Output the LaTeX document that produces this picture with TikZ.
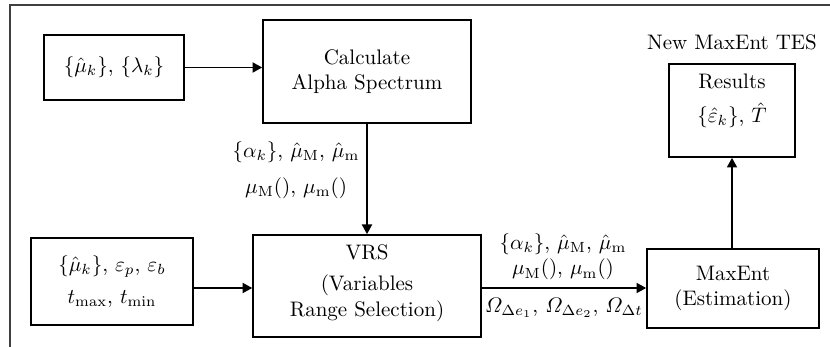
\documentclass[tikz,border=0pt]{standalone}
\usepackage{amsmath}
\usetikzlibrary{arrows.meta}
\begin{document}
\begin{tikzpicture}[x=0.476pt,y=-0.476pt,
  box/.style={draw, line width=0.75pt, inner sep=0pt, align=center, font=\normalsize},
  arr/.style={line width=0.75pt, -{Triangle[length=4.6pt,width=4.8pt]}},
  lbl/.style={inner sep=1pt, align=center},
  frame/.style={line width=0.6pt, draw=black!75}]
\useasboundingbox (0,0) rectangle (830,347);
\draw[frame] (10,347) -- (10,5) -- (830,5);
% nodes
\node[box, minimum width=66.7pt, minimum height=31pt] (in1) at (114,67.5) {$\{\hat\mu_k\}$, $\{\lambda_k\}$};
\node[box, minimum width=99pt, minimum height=49pt] (calc) at (367,71.5) {Calculate\\Alpha Spectrum};
\node[box, minimum width=77pt, minimum height=41.4pt] (in2) at (112,281.5) {$\{\hat\mu_k\}$, $\varepsilon_p$, $\varepsilon_b$\\[3pt]$t_{\max}$, $t_{\min}$};
\node[box, minimum width=108.5pt, minimum height=48.6pt] (vrs) at (367,286) {};
\node[lbl] (vrstext) at (367,283) {VRS\\[3pt](Variables\\Range Selection)};
\node[box, minimum width=81.9pt, minimum height=37.6pt] (me) at (733,288.5) {MaxEnt\\(Estimation)};
\node[box, minimum width=60pt, minimum height=44.3pt] (res) at (732,110.5) {};
\node[lbl] (restext) at (732,101) {Results\\[4pt]$\{\hat\varepsilon_k\}$, $\hat{T}$};
\node[lbl] (title) at (732,42) {New MaxEnt TES};
% connectors
\draw[arr] (in1.east) -- (in1.east -| calc.west);
\draw[arr] (calc.south) -- (vrs.north);
\draw[arr] (in2.east |- 0,288) coordinate (a1) -- (vrs.west |- a1);
\draw[arr] (vrs.east |- 0,288) coordinate (a2) -- (me.west |- a2);
\draw[arr] (me.north -| res.south) -- (res.south);
% labels
\node[lbl, anchor=east] (l1) at (362,170) {$\{\alpha_k\}$, $\hat\mu_{\mathrm{M}}$, $\hat\mu_{\mathrm{m}}$\\[5pt]$\mu_{\mathrm{M}}()$, $\mu_{\mathrm{m}}()$};
\node[lbl] (l2) at (563,257) {$\{\alpha_k\}$, $\hat\mu_{\mathrm{M}}$, $\hat\mu_{\mathrm{m}}$\\$\mu_{\mathrm{M}}()$, $\mu_{\mathrm{m}}()$};
\node[lbl] (l3) at (564,308) {$\varOmega_{\Delta e_1}$, $\varOmega_{\Delta e_2}$, $\varOmega_{\Delta t}$};
\end{tikzpicture}
\end{document}
